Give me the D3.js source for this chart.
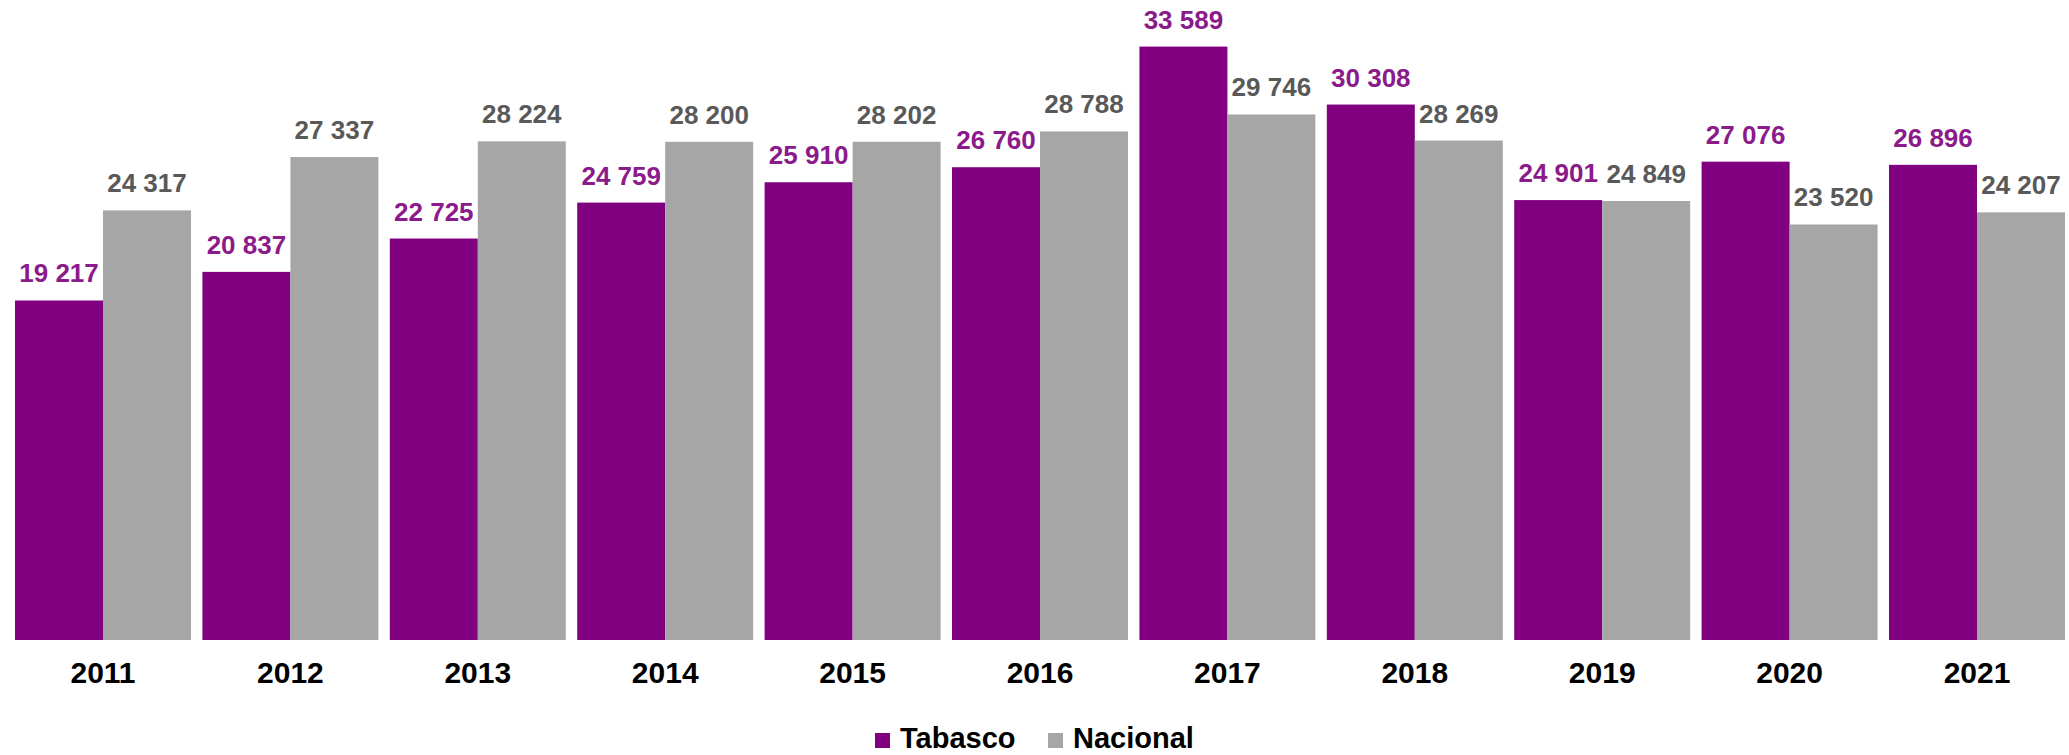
<!DOCTYPE html>
<html>
<head>
<meta charset="utf-8">
<script src="https://cdn.jsdelivr.net/npm/d3@7"></script>
<style>
  body { margin: 0; background: #fff; }
  svg { display: block; font-family: "Liberation Sans", Arial, sans-serif; }
</style>
</head>
<body>
<script>
// Data
var years = ['2011', '2012', '2013', '2014', '2015', '2016', '2017', '2018', '2019', '2020', '2021'];
var tabasco = [19217, 20837, 22725, 24759, 25910, 26760, 33589, 30308, 24901, 27076, 26896];
var nacional = [24317, 27337, 28224, 28200, 28202, 28788, 29746, 28269, 24849, 23520, 24207];
var seriesNames = ['Tabasco', 'Nacional'];
var seriesColors = ['#800080', '#a6a6a6'];
var labelColors = ['#8b1a8b', '#595959'];

var width = 2069, height = 755;
var baseline = 640;

var svg = d3.select('body').append('svg')
    .attr('width', width)
    .attr('height', height);

var x0 = d3.scaleBand()
    .domain(years)
    .range([9.3, 2070.7])
    .paddingInner(0.061)
    .paddingOuter(0.0305);

var x1 = d3.scaleBand()
    .domain(seriesNames)
    .range([0, x0.bandwidth()]);

var y = d3.scaleLinear()
    .domain([0, 36000])
    .range([baseline, 4]);

var fmt = d3.formatLocale({ decimal: '.', thousands: ' ', grouping: [3], currency: ['', ''] }).format(',d');

var rows = years.map(function(yr, i) {
    return { year: yr, values: [tabasco[i], nacional[i]] };
});

var groups = svg.selectAll('g.year')
  .data(rows).enter()
    .append('g')
    .attr('class', 'year')
    .attr('transform', function(d) { return 'translate(' + x0(d.year) + ',0)'; });

var cells = groups.selectAll('g.cell')
  .data(function(d) {
      return d.values.map(function(v, j) { return { name: seriesNames[j], value: v, j: j }; });
  }).enter()
    .append('g')
    .attr('class', 'cell');

cells.append('rect')
    .attr('x', function(d) { return x1(d.name); })
    .attr('y', function(d) { return y(d.value); })
    .attr('width', x1.bandwidth())
    .attr('height', function(d) { return baseline - y(d.value); })
    .attr('fill', function(d) { return seriesColors[d.j]; });

cells.append('text')
    .attr('x', function(d) { return x1(d.name) + x1.bandwidth() / 2; })
    .attr('y', function(d) { return y(d.value) - 18; })
    .attr('text-anchor', 'middle')
    .attr('font-size', 26)
    .attr('font-weight', 'bold')
    .attr('fill', function(d) { return labelColors[d.j]; })
    .text(function(d) { return fmt(d.value); });

// x axis labels
var xAxis = svg.append('g')
    .attr('transform', 'translate(0,' + baseline + ')')
    .call(d3.axisBottom(x0).tickSize(0).tickPadding(0));
xAxis.select('.domain').remove();
xAxis.selectAll('text')
    .attr('dy', null)
    .attr('y', 43)
    .attr('font-size', 30)
    .attr('font-weight', 'bold')
    .attr('font-family', '"Liberation Sans", Arial, sans-serif')
    .attr('fill', '#000');

// legend (kept just inside the bottom edge)
var legendItems = [
    { name: seriesNames[0], color: seriesColors[0], x: 875 },
    { name: seriesNames[1], color: seriesColors[1], x: 1048 }
];
var legend = svg.selectAll('g.legend')
  .data(legendItems).enter()
    .append('g')
    .attr('class', 'legend')
    .attr('transform', function(d) { return 'translate(' + d.x + ',0)'; });
legend.append('rect')
    .attr('x', 0)
    .attr('y', 733)
    .attr('width', 15)
    .attr('height', 15)
    .attr('fill', function(d) { return d.color; });
legend.append('text')
    .attr('x', 25)
    .attr('y', 748)
    .attr('font-size', 29)
    .attr('font-weight', 'bold')
    .attr('fill', '#000')
    .text(function(d) { return d.name; });
</script>
</body>
</html>
